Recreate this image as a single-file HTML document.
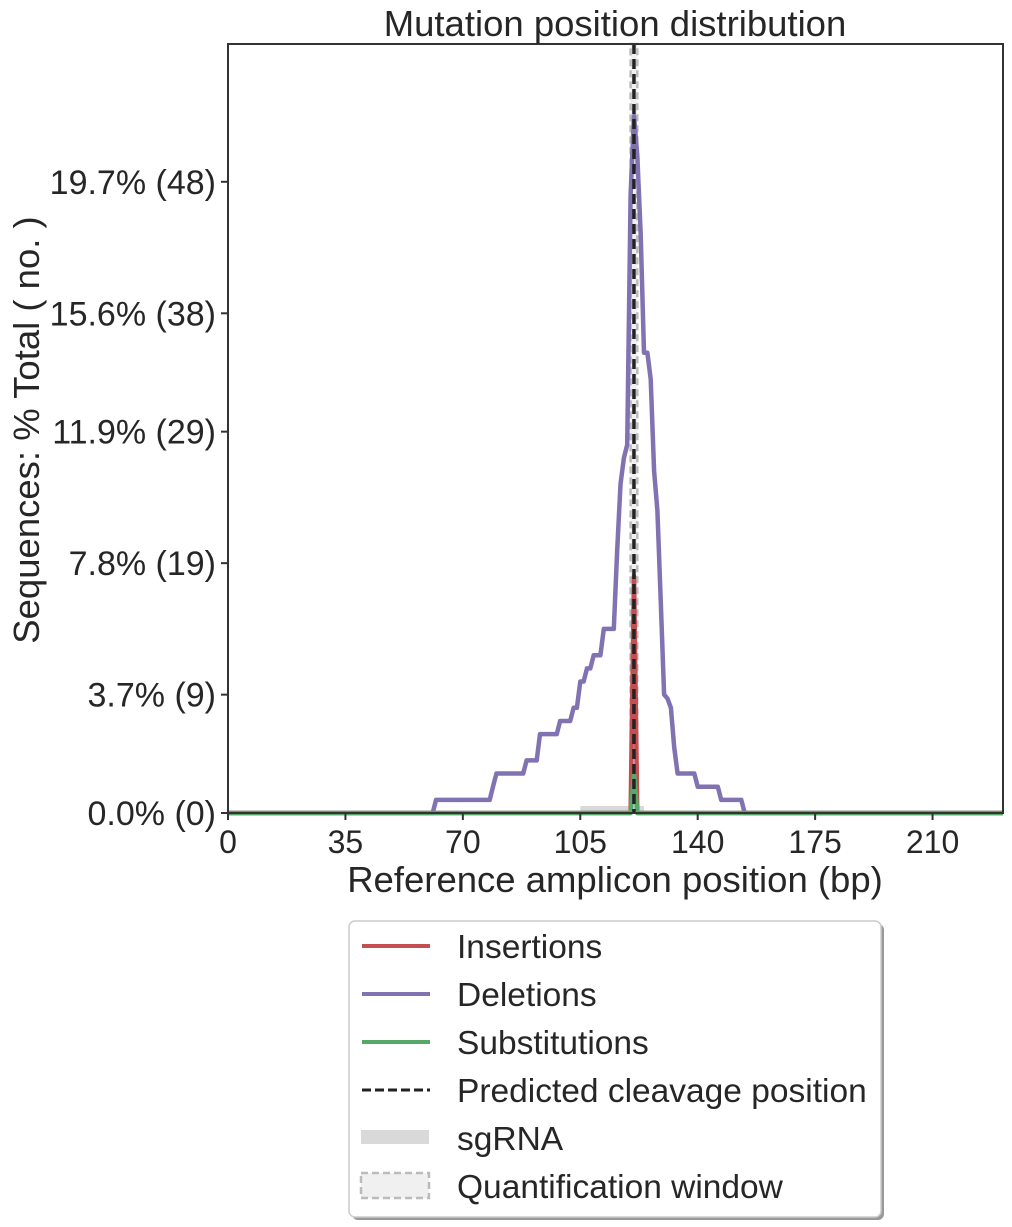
<!DOCTYPE html>
<html><head><meta charset="utf-8">
<style>
html,body{margin:0;padding:0;background:#fff;}
svg{display:block;font-family:"Liberation Sans",Arial,sans-serif;}
</style></head>
<body>
<svg id="chart" width="1012" height="1227" viewBox="0 0 1012 1227"></svg>
<script>
const deletionPositions = [61,62,78,79,80,88,89,92,93,98,99,102,103,104,105,106,107,108,109,111,112,114,115,116,117,118,119,120,121,122,123,124,125,126,127,128,129,130,131,132,133,134,139,140,146,147,153,154];
const deletionCounts    = [0, 1, 1, 2, 3, 3, 4, 4, 6, 6, 7, 7, 8, 8, 10,10,11,11,12,12,14,14,14,20,25,27,28,47,53,50,44,35,35,33,26,23,16,9, 8.7,8, 5, 3, 3, 2, 2, 1, 1, 0];
const insertionPositions = [120,121,122];
const insertionCounts = [0,18,0];
const substitutionPositions = [120,121,122];
const substitutionCounts = [0,3,0];
const yTickCounts = [0,9,19,29,38,48];
const yTickLabels = ["0.0% (0)","3.7% (9)","7.8% (19)","11.9% (29)","15.6% (38)","19.7% (48)"];
const xTicks = [0,35,70,105,140,175,210];
const cleavagePosition = 121;
const sgRNARange = [105,124];
const quantWindow = [120,122];
const ampliconLength = 231;

const L=228,R=1003,T=44,B=813;
const xs = v => L + v*(R-L)/ampliconLength;
const ys = c => B - c*13.15;
const NS="http://www.w3.org/2000/svg";
const svg=document.getElementById('chart');
function mk(tag,attrs,parent){const e=document.createElementNS(NS,tag);for(const k in attrs)e.setAttribute(k,attrs[k]);(parent||svg).appendChild(e);return e;}

let q=mk('rect',{x:xs(quantWindow[0]),y:T,width:xs(quantWindow[1])-xs(quantWindow[0]),height:B-T,fill:'#f0f0f0',stroke:'#bbbbbb','stroke-width':2.5,'stroke-dasharray':'7,4'});


let s=mk('rect',{x:xs(sgRNARange[0]),y:B-7,width:xs(sgRNARange[1])-xs(sgRNARange[0]),height:7,fill:'#d9d9d9'});



function line(px,py,color,name){
  let pts=[[0,0]];
  for(let i=0;i<px.length;i++)pts.push([px[i],py[i]]);
  pts.push([ampliconLength,0]);
  const d=pts.map((p,i)=>(i?'L':'M')+xs(p[0]).toFixed(1)+','+ys(p[1]).toFixed(1)).join('');
  const e=mk('path',{d:d,fill:'none',stroke:color,'stroke-width':4.5,'stroke-linejoin':'round'});
  
  
}
line(deletionPositions,deletionCounts,'#8172b2','deletions-line');
line(insertionPositions,insertionCounts,'#c44e52','insertions-line');
line(substitutionPositions,substitutionCounts,'#55a868','substitutions-line');

let c=mk('line',{x1:xs(cleavagePosition),x2:xs(cleavagePosition),y1:T,y2:B,stroke:'#222','stroke-width':3.5,'stroke-dasharray':'10,5'});



let fr=mk('rect',{x:L,y:T,width:R-L,height:B-T,fill:'none',stroke:'#333','stroke-width':2});



yTickCounts.forEach((v,i)=>{
  const y=ys(v);
  const t=mk('line',{x1:L-7,x2:L,y1:y,y2:y,stroke:'#333','stroke-width':2});
  
  
  const tx=mk('text',{x:L-12,y:y+12,'text-anchor':'end','font-size':34,fill:'#262626'});
  tx.textContent=yTickLabels[i];
  
  
});
xTicks.forEach(v=>{
  const x=xs(v);
  const t=mk('line',{x1:x,x2:x,y1:B,y2:B+7,stroke:'#333','stroke-width':2});
  
  
  const tx=mk('text',{x:x,y:B+40,'text-anchor':'middle','font-size':32,fill:'#262626'});
  tx.textContent=v;
  
  
});
</script>
<svg style="position:absolute;left:0;top:0" width="1012" height="1227">
<text x="615" y="36" text-anchor="middle" font-size="36.5" fill="#262626">Mutation position distribution</text>
<text x="615" y="892" text-anchor="middle" font-size="36.5" fill="#262626">Reference amplicon position (bp)</text>
<text transform="translate(39,430) rotate(-90)" text-anchor="middle" font-size="36.5" fill="#262626">Sequences: % Total ( no. )</text>
<g>
<rect x="352" y="924" width="532" height="296" rx="6" fill="#999"/>
<rect x="349" y="921" width="532" height="296" rx="6" fill="#fff" stroke="#ccc" stroke-width="1.5"/>
<line x1="362" x2="430" y1="946" y2="946" stroke="#c44e52" stroke-width="4"/>
<text x="457" y="958" font-size="33.5" fill="#262626">Insertions</text>
<line x1="362" x2="430" y1="994" y2="994" stroke="#8172b2" stroke-width="4"/>
<text x="457" y="1006" font-size="33.5" fill="#262626">Deletions</text>
<line x1="362" x2="430" y1="1042" y2="1042" stroke="#55a868" stroke-width="4"/>
<text x="457" y="1054" font-size="33.5" fill="#262626">Substitutions</text>
<line x1="362" x2="430" y1="1090" y2="1090" stroke="#222" stroke-width="3" stroke-dasharray="9,4"/>
<text x="457" y="1102" font-size="33.5" fill="#262626">Predicted cleavage position</text>
<rect x="361" y="1130" width="68" height="14" fill="#d9d9d9"/>
<text x="457" y="1150" font-size="33.5" fill="#262626">sgRNA</text>
<rect x="361" y="1173" width="68" height="25" fill="#f0f0f0" stroke="#bbb" stroke-width="2.5" stroke-dasharray="7,4"/>
<text x="457" y="1198" font-size="33.5" fill="#262626">Quantification window</text>
</g>
</svg>
</body></html>
